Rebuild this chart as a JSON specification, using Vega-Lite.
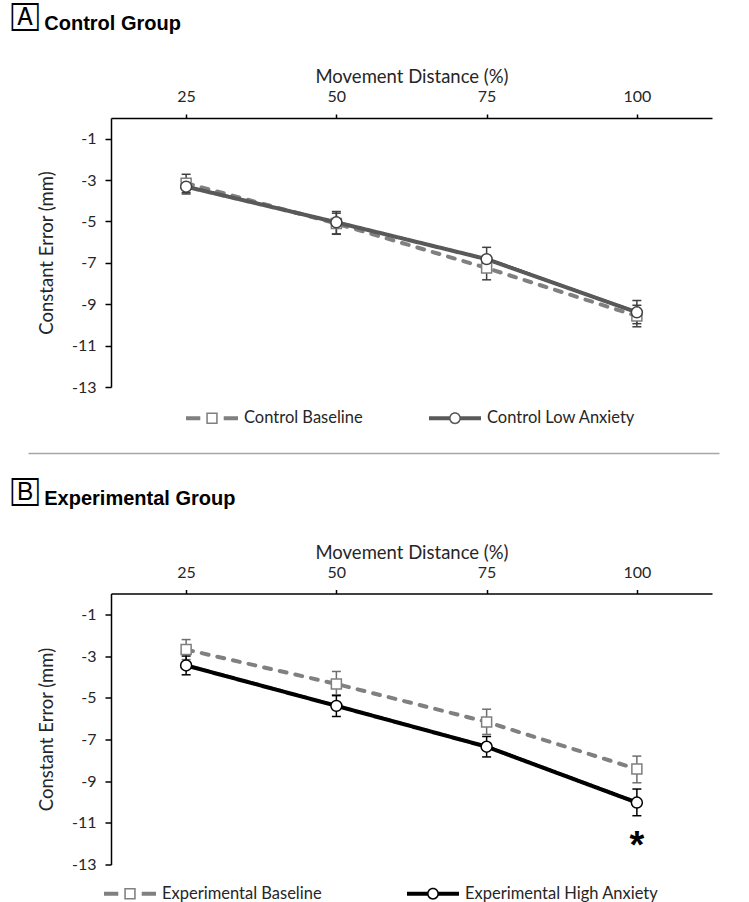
{
  "$schema": "https://vega.github.io/schema/vega-lite/v6.json",
  "padding": {"left": 12, "top": 5, "right": 5, "bottom": 0},
  "background": "white",
  "spacing": 27.5,
  "datasets": {
    "A": [
      {"series": "Control Baseline", "dist": 25, "mean": -3.15, "lo": -3.6, "hi": -2.72},
      {"series": "Control Baseline", "dist": 50, "mean": -5.1, "lo": -5.62, "hi": -4.6},
      {"series": "Control Baseline", "dist": 75, "mean": -7.25, "lo": -7.82, "hi": -6.7},
      {"series": "Control Baseline", "dist": 100, "mean": -9.57, "lo": -10.09, "hi": -9.05},
      {"series": "Control Low Anxiety", "dist": 25, "mean": -3.32, "lo": -3.67, "hi": -2.97},
      {"series": "Control Low Anxiety", "dist": 50, "mean": -5.04, "lo": -5.6, "hi": -4.52},
      {"series": "Control Low Anxiety", "dist": 75, "mean": -6.82, "lo": -7.35, "hi": -6.25},
      {"series": "Control Low Anxiety", "dist": 100, "mean": -9.39, "lo": -9.94, "hi": -8.82}
    ],
    "B": [
      {"series": "Experimental Baseline", "dist": 25, "mean": -2.69, "lo": -3.17, "hi": -2.21},
      {"series": "Experimental Baseline", "dist": 50, "mean": -4.34, "lo": -4.86, "hi": -3.74},
      {"series": "Experimental Baseline", "dist": 75, "mean": -6.16, "lo": -6.76, "hi": -5.55},
      {"series": "Experimental Baseline", "dist": 100, "mean": -8.42, "lo": -9.08, "hi": -7.8},
      {"series": "Experimental High Anxiety", "dist": 25, "mean": -3.45, "lo": -3.9, "hi": -3.0},
      {"series": "Experimental High Anxiety", "dist": 50, "mean": -5.39, "lo": -5.9, "hi": -4.9},
      {"series": "Experimental High Anxiety", "dist": 75, "mean": -7.35, "lo": -7.84, "hi": -6.86},
      {"series": "Experimental High Anxiety", "dist": 100, "mean": -10.03, "lo": -10.66, "hi": -9.38}
    ],
    "starB": [{"dist": 100, "mean": -11.75, "label": "*"}]
  },
  "config": {
    "view": {"stroke": null},
    "font": "Lato",
    "axis": {
      "labelFont": "Lato", "labelFontSize": 16, "labelColor": "#262626",
      "titleFont": "Lato", "titleFontSize": 18.5, "titleFontWeight": "normal", "titleColor": "#262626",
      "domainColor": "#000000", "domainWidth": 1.5, "tickColor": "#000000", "tickWidth": 1.5, "grid": false
    },
    "legend": {"labelFont": "Lato", "labelFontSize": 16.5, "labelColor": "#262626", "labelLimit": 400},
    "title": {
      "anchor": "start", "frame": "bounds", "font": "Liberation Sans", "fontSize": 20, "fontWeight": "bold",
      "color": "#000000", "dx": -25, "offset": 26,
      "subtitleFont": "DejaVu Sans", "subtitleFontSize": 24, "subtitleFontWeight": "normal", "subtitleColor": "#000000",
      "subtitlePadding": -28
    }
  },
  "resolve": {
    "scale": {"x": "independent", "y": "independent", "stroke": "independent", "strokeDash": "independent"},
    "legend": {"stroke": "independent"}
  },
  "vconcat": [
    {
      "title": {"text": "\u200b\u00a0\u00a0\u00a0\u00a0\u00a0\u2009Control Group", "subtitle": "🄰"},
      "width": 601,
      "height": 269,
      "data": {"name": "A"},
      "resolve": {"scale": {"x": "independent"}, "axis": {"x": "independent", "y": "independent"}},
      "layer": [
        {
          "resolve": {"axis": {"x": "independent", "y": "independent"}},
          "layer": [
            {
              "mark": {"type": "line", "strokeWidth": 4, "strokeCap": "round"},
              "encoding": {
                "x": {"field": "dist", "type": "quantitative", "scale": {"domain": [12.5, 112.5], "nice": false, "zero": false},
                      "axis": {"orient": "top", "values": [25, 50, 75, 100], "title": "Movement Distance (%)", "tickSize": 4, "labelPadding": 9.5, "titlePadding": 2}},
                "y": {"field": "mean", "type": "quantitative", "scale": {"domain": [-13, 0], "nice": false, "zero": false},
                      "axis": {"values": [-1, -3, -5, -7, -9, -11, -13], "labelExpr": "datum.value + ''", "title": "Constant Error (mm)", "tickSize": 6, "labelPadding": 9, "titlePadding": 15}},
                "stroke": {"field": "series", "type": "nominal",
                           "scale": {"domain": ["Control Baseline", "Control Low Anxiety"], "range": ["#808080", "#595959"]},
                           "legend": {
                             "orient": "none", "legendX": 75, "legendY": 274, "direction": "horizontal", "title": null,
                             "symbolSize": 2704, "labelOffset": 6, "columnPadding": 66,
                             "encode": {"symbols": {"update": {
                               "shape": {"signal": "datum.value === 'Control Baseline' ? 'M-1,-0.08H-0.45V0.08H-1Z M0.45,-0.08H1V0.08H0.45Z M-0.22,-0.22H0.22V0.22H-0.22Z M-0.16,-0.16V0.16H0.16V-0.16Z' : 'M-1,-0.08H-0.21V0.08H-1Z M0.21,-0.08H1V0.08H0.21Z M-0.23,0A0.23,0.23 0 1,1 0.23,0A0.23,0.23 0 1,1 -0.23,0Z M-0.17,0A0.17,0.17 0 1,0 0.17,0A0.17,0.17 0 1,0 -0.17,0Z'"},
                               "fill": {"signal": "datum.value === 'Control Baseline' ? '#808080' : '#595959'"},
                               "strokeWidth": {"value": 0},
                               "size": {"value": 2704},
                               "opacity": {"value": 1}
                             }}}
                           }},
                "strokeDash": {"field": "series", "type": "nominal",
                               "scale": {"domain": ["Control Baseline", "Control Low Anxiety"], "range": [[7, 9], [1, 0]]}, "legend": null}
              }
            },
            {
              "mark": {"type": "rule", "color": "#404040", "strokeWidth": 1.5},
              "encoding": {
                "x": {"field": "dist", "type": "quantitative", "axis": null},
                "y": {"field": "lo", "type": "quantitative", "axis": null},
                "y2": {"field": "hi"},
                "detail": {"field": "series"}
              }
            },
            {
              "mark": {"type": "point", "shape": "M-1,0H1", "size": 81, "filled": false, "color": "#404040", "strokeWidth": 1.5, "opacity": 1},
              "encoding": {
                "x": {"field": "dist", "type": "quantitative", "axis": null},
                "y": {"field": "lo", "type": "quantitative", "axis": null}
              }
            },
            {
              "mark": {"type": "point", "shape": "M-1,0H1", "size": 81, "filled": false, "color": "#404040", "strokeWidth": 1.5, "opacity": 1},
              "encoding": {
                "x": {"field": "dist", "type": "quantitative", "axis": null},
                "y": {"field": "hi", "type": "quantitative", "axis": null}
              }
            },
            {
              "transform": [{"filter": "datum.series === 'Control Baseline'"}],
              "mark": {"type": "point", "shape": "square", "filled": false, "fill": "white", "color": "#7f7f7f", "strokeWidth": 1.5, "opacity": 1, "size": 100},
              "encoding": {
                "x": {"field": "dist", "type": "quantitative", "axis": null},
                "y": {"field": "mean", "type": "quantitative", "axis": null}
              }
            },
            {
              "transform": [{"filter": "datum.series === 'Control Low Anxiety'"}],
              "mark": {"type": "point", "shape": "circle", "filled": false, "fill": "white", "color": "#404040", "strokeWidth": 1.5, "opacity": 1, "size": 120},
              "encoding": {
                "x": {"field": "dist", "type": "quantitative", "axis": null},
                "y": {"field": "mean", "type": "quantitative", "axis": null}
              }
            }
          ]
        },
        {
          "mark": {"type": "point", "opacity": 0},
          "encoding": {
            "x": {"field": "dist", "type": "quantitative", "scale": {"domain": [12.5, 112.5], "range": [-83, 608], "nice": false, "zero": false},
                  "axis": {"orient": "bottom", "offset": 66, "labels": false, "ticks": false, "title": null, "domainColor": "#a6a6a6", "domainWidth": 1.5}},
            "y": {"field": "mean", "type": "quantitative", "axis": null}
          }
        }
      ]
    },
    {
      "title": {"text": "\u200b\u00a0\u00a0\u00a0\u00a0\u00a0\u2009Experimental Group", "subtitle": "🄱"},
      "width": 601,
      "height": 271,
      "resolve": {"axis": {"x": "independent", "y": "independent"}},
      "layer": [
        {
          "data": {"name": "B"},
          "mark": {"type": "line", "strokeWidth": 4, "strokeCap": "round"},
          "encoding": {
            "x": {"field": "dist", "type": "quantitative", "scale": {"domain": [12.5, 112.5], "nice": false, "zero": false},
                  "axis": {"orient": "top", "values": [25, 50, 75, 100], "title": "Movement Distance (%)", "tickSize": 4, "labelPadding": 9.5, "titlePadding": 2}},
            "y": {"field": "mean", "type": "quantitative", "scale": {"domain": [-13, 0], "nice": false, "zero": false},
                  "axis": {"values": [-1, -3, -5, -7, -9, -11, -13], "labelExpr": "datum.value + ''", "title": "Constant Error (mm)", "tickSize": 6, "labelPadding": 9, "titlePadding": 15}},
            "stroke": {"field": "series", "type": "nominal",
                       "scale": {"domain": ["Experimental Baseline", "Experimental High Anxiety"], "range": ["#808080", "#000000"]},
                       "legend": {
                         "orient": "none", "legendX": -7, "legendY": 274, "direction": "horizontal", "title": null,
                         "symbolSize": 2704, "labelOffset": 6, "columnPadding": 85,
                         "encode": {"symbols": {"update": {
                           "shape": {"signal": "datum.value === 'Experimental Baseline' ? 'M-1,-0.08H-0.45V0.08H-1Z M0.45,-0.08H1V0.08H0.45Z M-0.22,-0.22H0.22V0.22H-0.22Z M-0.16,-0.16V0.16H0.16V-0.16Z' : 'M-1,-0.08H-0.21V0.08H-1Z M0.21,-0.08H1V0.08H0.21Z M-0.23,0A0.23,0.23 0 1,1 0.23,0A0.23,0.23 0 1,1 -0.23,0Z M-0.17,0A0.17,0.17 0 1,0 0.17,0A0.17,0.17 0 1,0 -0.17,0Z'"},
                           "fill": {"signal": "datum.value === 'Experimental Baseline' ? '#808080' : '#000000'"},
                           "strokeWidth": {"value": 0},
                           "size": {"value": 2704},
                           "opacity": {"value": 1}
                         }}}
                       }},
            "strokeDash": {"field": "series", "type": "nominal",
                           "scale": {"domain": ["Experimental Baseline", "Experimental High Anxiety"], "range": [[7, 9], [1, 0]]}, "legend": null}
          }
        },
        {
          "data": {"name": "B"},
          "transform": [{"filter": "datum.series === 'Experimental Baseline'"}],
          "mark": {"type": "rule", "color": "#6e6e6e", "strokeWidth": 1.5},
          "encoding": {
            "x": {"field": "dist", "type": "quantitative", "axis": null},
            "y": {"field": "lo", "type": "quantitative", "axis": null},
            "y2": {"field": "hi"}
          }
        },
        {
          "data": {"name": "B"},
          "transform": [{"filter": "datum.series === 'Experimental Baseline'"}],
          "mark": {"type": "point", "shape": "M-1,0H1", "size": 81, "filled": false, "color": "#6e6e6e", "strokeWidth": 1.5, "opacity": 1},
          "encoding": {
            "x": {"field": "dist", "type": "quantitative", "axis": null},
            "y": {"field": "lo", "type": "quantitative", "axis": null}
          }
        },
        {
          "data": {"name": "B"},
          "transform": [{"filter": "datum.series === 'Experimental Baseline'"}],
          "mark": {"type": "point", "shape": "M-1,0H1", "size": 81, "filled": false, "color": "#6e6e6e", "strokeWidth": 1.5, "opacity": 1},
          "encoding": {
            "x": {"field": "dist", "type": "quantitative", "axis": null},
            "y": {"field": "hi", "type": "quantitative", "axis": null}
          }
        },
        {
          "data": {"name": "B"},
          "transform": [{"filter": "datum.series === 'Experimental High Anxiety'"}],
          "mark": {"type": "rule", "color": "#000000", "strokeWidth": 1.5},
          "encoding": {
            "x": {"field": "dist", "type": "quantitative", "axis": null},
            "y": {"field": "lo", "type": "quantitative", "axis": null},
            "y2": {"field": "hi"}
          }
        },
        {
          "data": {"name": "B"},
          "transform": [{"filter": "datum.series === 'Experimental High Anxiety'"}],
          "mark": {"type": "point", "shape": "M-1,0H1", "size": 81, "filled": false, "color": "#000000", "strokeWidth": 1.5, "opacity": 1},
          "encoding": {
            "x": {"field": "dist", "type": "quantitative", "axis": null},
            "y": {"field": "lo", "type": "quantitative", "axis": null}
          }
        },
        {
          "data": {"name": "B"},
          "transform": [{"filter": "datum.series === 'Experimental High Anxiety'"}],
          "mark": {"type": "point", "shape": "M-1,0H1", "size": 81, "filled": false, "color": "#000000", "strokeWidth": 1.5, "opacity": 1},
          "encoding": {
            "x": {"field": "dist", "type": "quantitative", "axis": null},
            "y": {"field": "hi", "type": "quantitative", "axis": null}
          }
        },
        {
          "data": {"name": "B"},
          "transform": [{"filter": "datum.series === 'Experimental Baseline'"}],
          "mark": {"type": "point", "shape": "square", "filled": false, "fill": "white", "color": "#7f7f7f", "strokeWidth": 1.5, "opacity": 1, "size": 100},
          "encoding": {
            "x": {"field": "dist", "type": "quantitative", "axis": null},
            "y": {"field": "mean", "type": "quantitative", "axis": null}
          }
        },
        {
          "data": {"name": "B"},
          "transform": [{"filter": "datum.series === 'Experimental High Anxiety'"}],
          "mark": {"type": "point", "shape": "circle", "filled": false, "fill": "white", "color": "#000000", "strokeWidth": 1.5, "opacity": 1, "size": 120},
          "encoding": {
            "x": {"field": "dist", "type": "quantitative", "axis": null},
            "y": {"field": "mean", "type": "quantitative", "axis": null}
          }
        },
        {
          "data": {"name": "starB"},
          "mark": {"type": "text", "font": "Liberation Sans", "fontSize": 38, "fontWeight": "bold", "color": "#000000", "dy": 9},
          "encoding": {
            "x": {"field": "dist", "type": "quantitative", "axis": null},
            "y": {"field": "mean", "type": "quantitative", "axis": null},
            "text": {"field": "label"}
          }
        }
      ]
    }
  ]
}
